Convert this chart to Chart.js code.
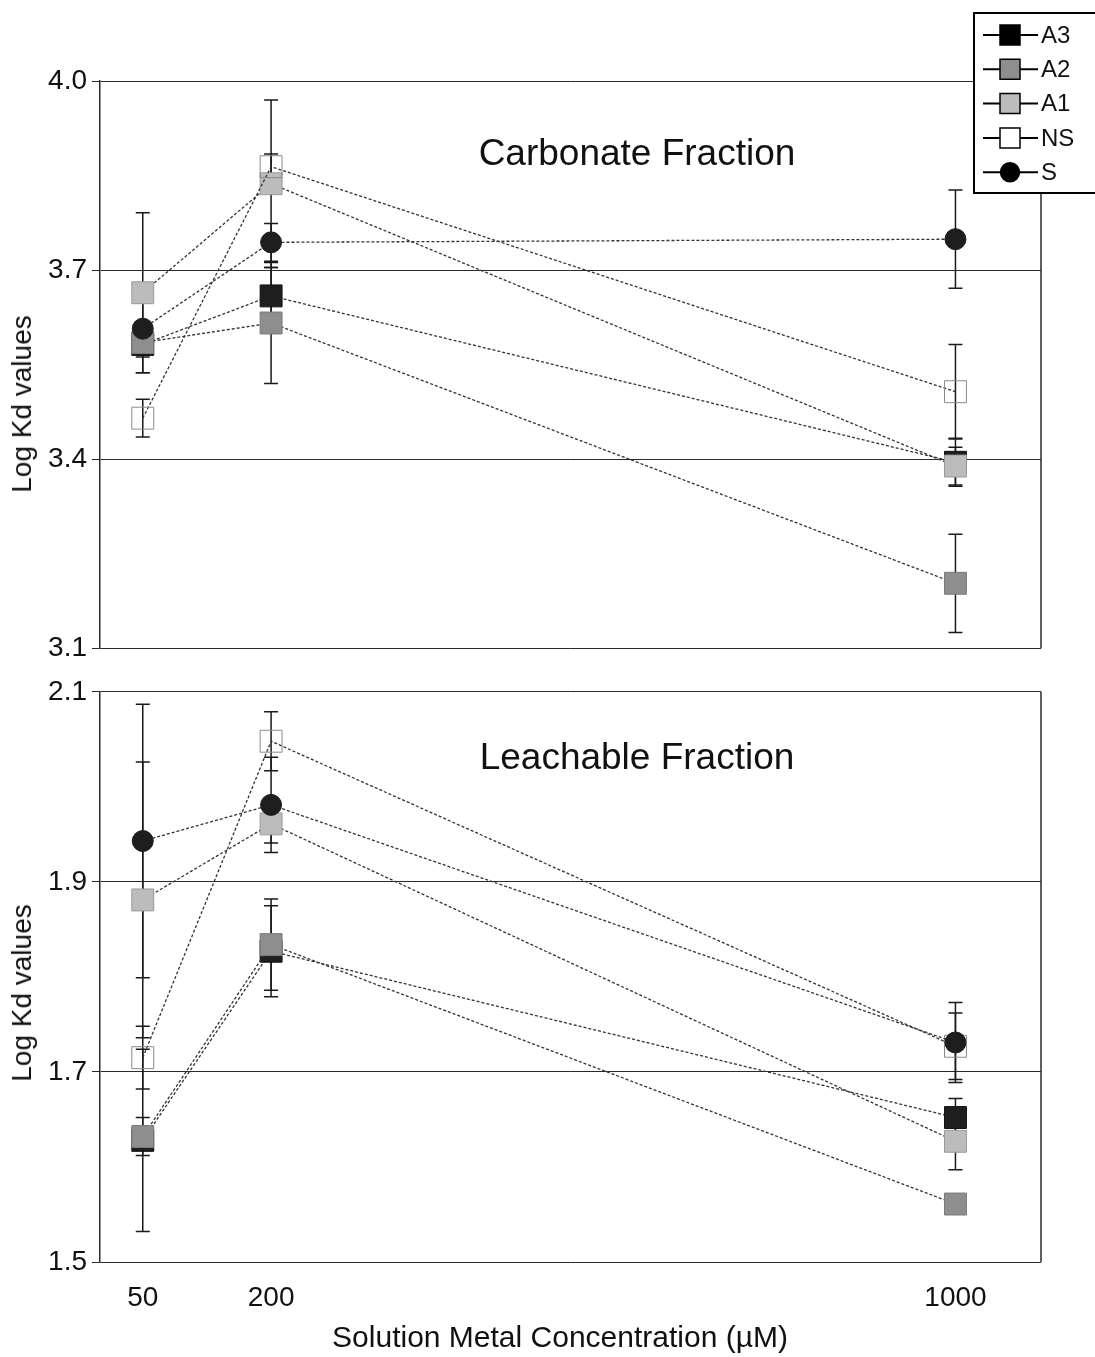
<!DOCTYPE html>
<html>
<head>
<meta charset="utf-8">
<title>Log Kd values by solution metal concentration</title>
<script src="https://cdn.jsdelivr.net/npm/chart.js@4.4.1/dist/chart.umd.min.js"></script>
<style>
  body { margin: 0; background: #fff; font-family: "Liberation Sans", Arial, sans-serif; color: #111; }
  #page { position: relative; width: 1095px; height: 1357px; overflow: hidden; }
  .panel { position: absolute; left: 0; width: 1095px; }
  #top-panel { top: 0; height: 670px; }
  #bottom-panel { top: 670px; height: 687px; }
  .label { position: absolute; white-space: nowrap; transform: translate(-50%, -50%); }
  .ytitle { font-size: 28px; transform: translate(-50%, -50%) rotate(-90deg); }
  .fraction { font-size: 37px; }
  #xtitle { font-size: 30px; }
</style>
</head>
<body>
<div id="page">
  <div class="panel" id="top-panel"><canvas id="carbonate-chart"></canvas></div>
  <div class="panel" id="bottom-panel"><canvas id="leachable-chart"></canvas></div>
  <div class="label fraction" style="left:637px; top:153px">Carbonate Fraction</div>
  <div class="label fraction" style="left:637px; top:757px">Leachable Fraction</div>
  <div class="label ytitle" style="left:22px; top:404px">Log Kd values</div>
  <div class="label ytitle" style="left:22px; top:993px">Log Kd values</div>
  <div class="label" id="xtitle" style="left:560px; top:1337px">Solution Metal Concentration (µM)</div>
</div>

<script>
// metal concentrations (µM) and the ticks shown on the shared x axis
const concentrations = [50, 200, 1000];
const xTicks = [50, 200, 1000];

// carbonate fraction, log Kd and +/- error
const carbonateA3 = [3.582, 3.659, 3.395];
const carbonateA2 = [3.585, 3.616, 3.203];
const carbonateA1 = [3.664, 3.837, 3.389];
const carbonateNS = [3.465, 3.864, 3.507];
const carbonateS = [3.607, 3.744, 3.749];
const carbonateA3Err = [0.02, 0.045, 0.038];
const carbonateA2Err = [0.02, 0.096, 0.078];
const carbonateA1Err = [0.127, 0.133, 0.03];
const carbonateNSErr = [0.03, 0.02, 0.075];
const carbonateSErr = [0.07, 0.03, 0.078];
const carbonateTicks = [3.1, 3.4, 3.7, 4.0];

// leachable fraction, log Kd and +/- error
const leachableA3 = [1.628, 1.827, 1.652];
const leachableA2 = [1.632, 1.834, 1.561];
const leachableA1 = [1.881, 1.961, 1.627];
const leachableNS = [1.715, 2.048, 1.727];
const leachableS = [1.943, 1.981, 1.731];
const leachableA3Err = [0.096, 0.048, 0.02];
const leachableA2Err = [0.02, 0.048, 0.01];
const leachableA1Err = [0.145, 0.02, 0.03];
const leachableNSErr = [0.033, 0.031, 0.035];
const leachableSErr = [0.144, 0.05, 0.042];
const leachableTicks = [1.5, 1.7, 1.9, 2.1];

// legend order; datasets are drawn the other way round so S ends up on top
const seriesNames = ["A3", "A2", "A1", "NS", "S"];

const seriesStyles = {
    A3: { fill: "#1e1e1e", edge: "#111111", legendFill: "#000000", shape: "rect", radius: 15.5 },
    A2: { fill: "#8e8e8e", edge: "#7a7a7a", legendFill: "#8e8e8e", shape: "rect", radius: 15.5 },
    A1: { fill: "#bcbcbc", edge: "#9a9a9a", legendFill: "#bcbcbc", shape: "rect", radius: 15.5 },
    NS: { fill: "rgba(255,255,255,0)", edge: "#8a8a8a", legendFill: "#ffffff", shape: "rect", radius: 15.5 },
    S:  { fill: "#1e1e1e", edge: "#1e1e1e", legendFill: "#000000", shape: "circle", radius: 10.5 }
};

const FONT = "'Liberation Sans', Arial, sans-serif";

function buildDatasets(values, errors) {
    return seriesNames.slice().reverse().map(name => {
        const st = seriesStyles[name];
        return {
            label: name,
            data: concentrations.map((c, i) => ({ x: c, y: values[name][i] })),
            errors: errors[name],
            showLine: true,
            borderColor: "#333333",
            borderWidth: 1.3,
            borderDash: [3, 2],
            pointStyle: st.shape,
            pointRadius: st.radius,
            pointHoverRadius: st.radius,
            pointBackgroundColor: st.fill,
            pointBorderColor: st.edge,
            pointBorderWidth: 1
        };
    });
}

// vertical error bars with caps, drawn under lines and markers
const errorBars = {
    id: "errorBars",
    beforeDatasetsDraw(chart) {
        const ctx = chart.ctx;
        const xs = chart.scales.x;
        const ys = chart.scales.y;
        ctx.save();
        ctx.strokeStyle = "#1a1a1a";
        ctx.lineWidth = 1.5;
        chart.data.datasets.forEach(ds => {
            ds.data.forEach((pt, i) => {
                const err = ds.errors[i];
                const px = xs.getPixelForValue(pt.x);
                const top = ys.getPixelForValue(pt.y + err);
                const bottom = ys.getPixelForValue(pt.y - err);
                ctx.beginPath();
                ctx.moveTo(px, top);
                ctx.lineTo(px, bottom);
                ctx.moveTo(px - 7, top);
                ctx.lineTo(px + 7, top);
                ctx.moveTo(px - 7, bottom);
                ctx.lineTo(px + 7, bottom);
                ctx.stroke();
            });
        });
        ctx.restore();
    }
};

// right-hand edge of the plot frame
const frameEdge = {
    id: "frameEdge",
    afterDraw(chart) {
        const a = chart.chartArea;
        const ctx = chart.ctx;
        ctx.save();
        ctx.strokeStyle = "#2a2a2a";
        ctx.lineWidth = 1.5;
        ctx.beginPath();
        ctx.moveTo(a.right, a.top);
        ctx.lineTo(a.right, a.bottom);
        ctx.stroke();
        ctx.restore();
    }
};

// boxed legend in the top right corner
const legendBox = {
    id: "legendBox",
    afterDraw(chart) {
        const ctx = chart.ctx;
        ctx.save();
        ctx.fillStyle = "#ffffff";
        ctx.fillRect(974, 13, 130, 180);
        ctx.strokeStyle = "#000000";
        ctx.lineWidth = 2;
        ctx.strokeRect(974, 13, 130, 180);

        seriesNames.forEach((name, i) => {
            const st = seriesStyles[name];
            const rowY = 35 + i * 34.3;
            ctx.strokeStyle = "#000000";
            ctx.lineWidth = 2;
            ctx.beginPath();
            ctx.moveTo(983, rowY);
            ctx.lineTo(1038, rowY);
            ctx.stroke();

            ctx.fillStyle = st.legendFill;
            ctx.lineWidth = 1.5;
            ctx.beginPath();
            if (st.shape === "circle") {
                ctx.arc(1010, rowY, 9.5, 0, Math.PI * 2);
            } else {
                ctx.rect(1000, rowY - 10, 20, 20);
            }
            ctx.fill();
            ctx.stroke();

            ctx.fillStyle = "#111111";
            ctx.font = "24px " + FONT;
            ctx.textBaseline = "middle";
            ctx.fillText(name, 1041, rowY + 1);
        });
        ctx.restore();
    }
};

function yAxis(ticks) {
    return {
        min: ticks[0],
        max: ticks[ticks.length - 1],
        afterBuildTicks: s => { s.ticks = ticks.map(v => ({ value: v })); },
        afterFit: s => { s.width = 100; },
        ticks: {
            font: { size: 28, family: FONT },
            color: "#111111",
            padding: 5,
            callback: v => v.toFixed(1)
        },
        grid: { color: "#2a2a2a", lineWidth: 1, tickLength: 8 },
        border: { color: "#2a2a2a", width: 1.5 }
    };
}

function makeChart(canvasId, values, errors, ticks, showX) {
    const xAxis = {
        type: "linear",
        min: 0,
        max: 1100,
        display: showX,
        afterBuildTicks: s => { s.ticks = xTicks.map(v => ({ value: v })); },
        ticks: {
            font: { size: 28, family: FONT },
            color: "#111111",
            padding: 19,
            callback: v => String(v)
        },
        grid: { display: false, drawTicks: false },
        border: { display: false }
    };
    if (showX) {
        xAxis.afterFit = s => { s.height = 95; };
    }

    return new Chart(document.getElementById(canvasId), {
        type: "scatter",
        data: { datasets: buildDatasets(values, errors) },
        options: {
            responsive: true,
            maintainAspectRatio: false,
            animation: false,
            layout: showX
                ? { padding: { top: 18, right: 54, bottom: 0, left: 0 } }
                : { padding: { top: 81, right: 54, bottom: 19, left: 0 } },
            plugins: {
                legend: { display: false },
                tooltip: { enabled: false }
            },
            scales: { x: xAxis, y: yAxis(ticks) }
        },
        plugins: showX ? [errorBars, frameEdge] : [errorBars, frameEdge, legendBox]
    });
}

makeChart("carbonate-chart",
    { A3: carbonateA3, A2: carbonateA2, A1: carbonateA1, NS: carbonateNS, S: carbonateS },
    { A3: carbonateA3Err, A2: carbonateA2Err, A1: carbonateA1Err, NS: carbonateNSErr, S: carbonateSErr },
    carbonateTicks, false);

makeChart("leachable-chart",
    { A3: leachableA3, A2: leachableA2, A1: leachableA1, NS: leachableNS, S: leachableS },
    { A3: leachableA3Err, A2: leachableA2Err, A1: leachableA1Err, NS: leachableNSErr, S: leachableSErr },
    leachableTicks, true);
</script>
</body>
</html>
